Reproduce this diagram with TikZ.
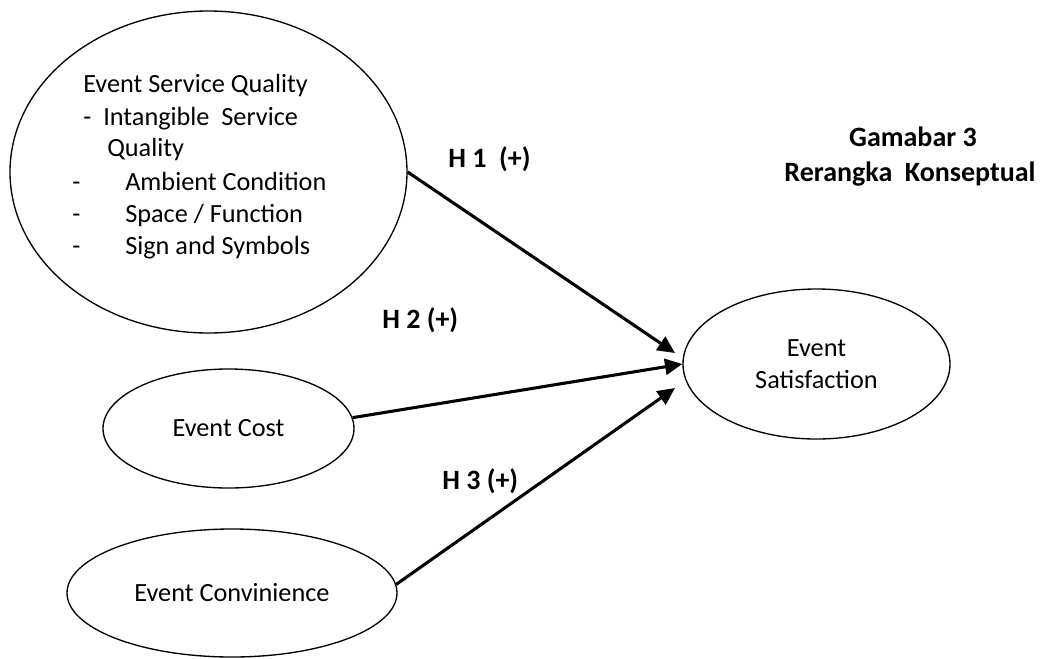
\documentclass[tikz,border=0pt]{standalone}
\usepackage{fontspec}
\setmainfont{Carlito}
\usetikzlibrary{shapes.geometric,arrows.meta}
\begin{document}
\begin{tikzpicture}[x=0.75pt,y=-0.75pt,
  construct/.style={draw,ellipse,line width=1pt,inner sep=0pt,
    font=\fontsize{19.7}{24}\selectfont,align=center},
  itemtext/.style={font=\fontsize{19.7}{24}\selectfont,inner sep=0pt,anchor=base west},
  hyp/.style={font=\bfseries\fontsize{21}{26}\selectfont,inner sep=0pt,anchor=base west},
  title/.style={font=\bfseries\fontsize{21}{26}\selectfont,inner sep=0pt,anchor=base},
  effect/.style={line width=2.3pt,-{Triangle[length=13pt,width=12pt]}}]
\useasboundingbox (0,0) rectangle (1043,658);

% constructs
\node[construct,minimum width=297.75pt,minimum height=241.5pt] (sq) at (208.5,172) {};
\node[construct,minimum width=188.25pt,minimum height=89.25pt] (ec) at (228.5,428.5) {Event Cost};
\node[construct,minimum width=247.5pt,minimum height=96pt] (cv) at (232,593) {Event Convinience};
\node[construct,minimum width=200.25pt,minimum height=112.5pt] (es) at (816.5,364) {Event\\Satisfaction};

% dimensions of service quality
\node[itemtext] (sq1) at (83,92) {Event Service Quality};
\node[itemtext] (sq2d) at (83,125) {-};
\node[itemtext] (sq2) at (103,125) {Intangible\ \ Service};
\node[itemtext] (sq3) at (107,156) {Quality};
\node[itemtext] (sq4d) at (72,190) {-};
\node[itemtext] (sq4) at (125,190) {Ambient Condition};
\node[itemtext] (sq5d) at (72,222) {-};
\node[itemtext] (sq5) at (125,222) {Space / Function};
\node[itemtext] (sq6d) at (72,254) {-};
\node[itemtext] (sq6) at (125,254) {Sign and Symbols};

% hypothesised paths
\coordinate (t1) at (675,353);
\coordinate (t3) at (675,388);
\draw[effect] (sq.east) -- (t1);
\draw[effect] (ec.5) -- (es.west);
\draw[effect] (cv.3) -- (t3);

\node[hyp] (h1) at (448,167) {H 1\ \ (+)};
\node[hyp] (h2) at (382,328) {H 2 (+)};
\node[hyp] (h3) at (442,489) {H 3 (+)};

% caption
\node[title] (cap1) at (913,146) {Gamabar 3};
\node[title] (cap2) at (910,181) {Rerangka\ \ Konseptual};
\end{tikzpicture}
\end{document}
